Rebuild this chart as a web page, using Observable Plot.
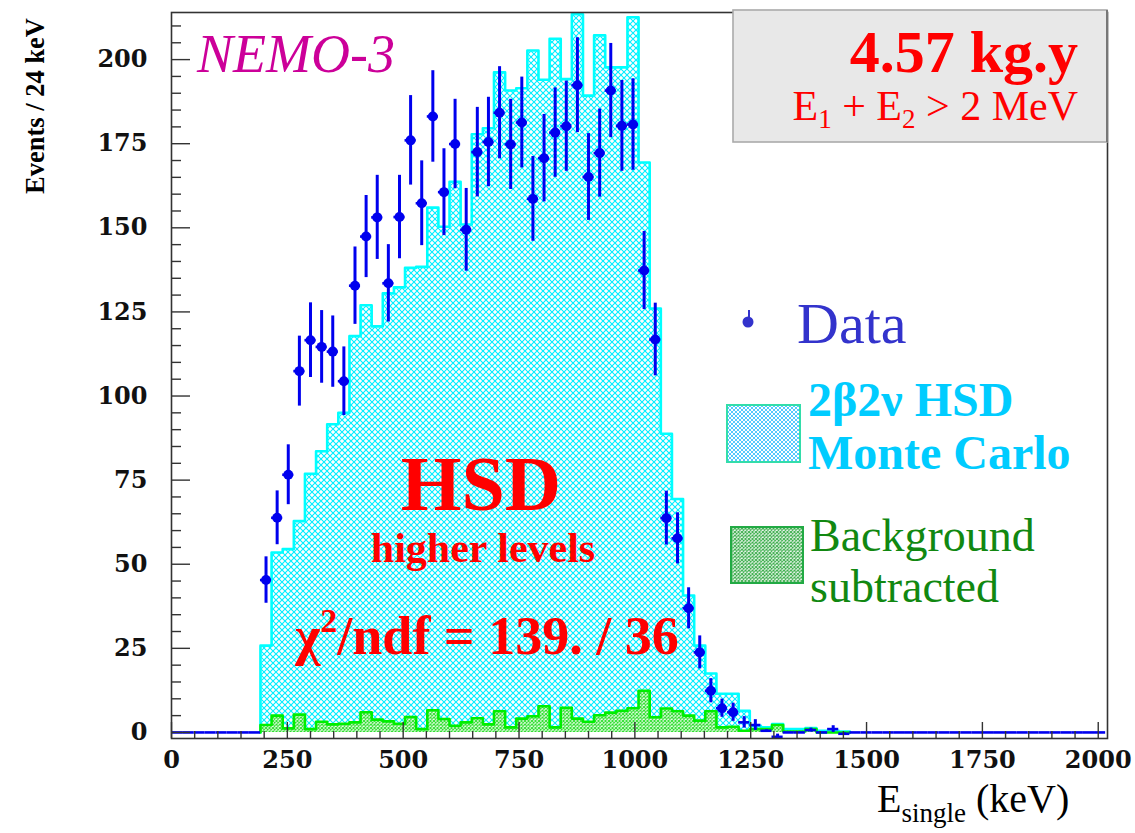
<!DOCTYPE html>
<html>
<head>
<meta charset="utf-8">
<script src="https://cdn.jsdelivr.net/npm/d3@7"></script>
<script src="https://cdn.jsdelivr.net/npm/@observablehq/plot@0.6"></script>
<style>
  html, body { margin: 0; padding: 0; background: #fff; }
  #chart svg { display: block; }
</style>
</head>
<body>
<div id="chart"></div>
<script>
// Single-electron energy spectrum, 24 keV bins, 0 – 2016 keV (84 bins).
const binWidth = 24;
const nBins = 84;
const firstBin = 8;            // bin 8 starts at 192 keV

// 2β2ν HSD Monte Carlo, events per bin from bin 8 onwards
const mcCounts = [
  25.8, 53.5, 54.5, 62.8, 76.9, 83.6, 91.6, 95.0, 117.8, 127.0,
  120.7, 130.5, 132.3, 138.1, 138.4, 156.0, 150.3, 163.7, 151.0, 177.8,
  179.6, 196.2, 190.8, 191.5, 202.7, 194.0, 206.2, 194.2, 213.5, 189.3,
  207.2, 197.7, 197.7, 212.6, 169.4, 126.0, 88.8, 69.4, 40.7, 25.8,
  17.5, 11.5, 11.5, 6.4, 2.0, 1.5, 2.5, 1.0, 1.0, 1.3,
  0.5, 0.5, 0.3
];

// Background that was subtracted from the data, events per bin from bin 8
const bkgCounts = [
  2.2, 5.0, 1.2, 5.3, 1.0, 3.2, 2.4, 2.6, 3.0, 6.0,
  3.8, 3.3, 2.6, 4.6, 1.0, 6.6, 4.0, 2.0, 3.0, 4.2,
  2.4, 6.3, 1.5, 4.1, 4.8, 7.8, 1.5, 7.3, 4.1, 3.2,
  5.1, 5.9, 6.4, 7.2, 12.4, 4.5, 7.1, 6.3, 5.0, 3.5,
  6.3, 1.5, 1.7, 0.5, 1.0, 1.0, 2.2, 0.3, 0.3, 1.0,
  0.0, 0.0, 0.0
];

// Background-subtracted data, events per bin from bin 8, and their errors
const dataCounts = [
  45.3, 63.8, 76.6, 107.4, 116.6, 114.6, 113.2, 104.4, 132.8, 147.4,
  153.1, 133.5, 153.2, 176.0, 157.3, 183.1, 160.6, 174.9, 149.4, 172.5,
  175.5, 184.2, 174.8, 181.3, 158.6, 170.7, 178.3, 180.2, 192.4, 165.1,
  172.2, 190.8, 180.3, 180.7, 137.3, 116.8, 63.7, 57.7, 36.9, 23.8,
  12.4, 7.2, 6.0, 3.0, 2.2, 0.5, -1.3, 0.0, 0.0, 0.7,
  0.0, 1.0, -0.4
];
const dataErrors = [
  6.9, 8.0, 8.9, 10.4, 11.1, 10.8, 10.6, 10.2, 11.5, 12.2,
  12.5, 11.5, 12.4, 13.3, 12.6, 13.6, 12.9, 13.3, 12.3, 13.3,
  13.3, 13.7, 13.4, 13.5, 12.6, 13.0, 13.3, 13.4, 14.1, 12.9,
  13.1, 14.0, 13.5, 13.6, 11.6, 10.8, 8.0, 7.6, 6.1, 4.9,
  3.6, 2.7, 2.7, 1.7, 1.6, 0.3, 0.8, 0.0, 0.0, 0.6,
  0.0, 1.0, 0.3
];

const xTicks = [0, 250, 500, 750, 1000, 1250, 1500, 1750, 2000];
const yTicks = [0, 25, 50, 75, 100, 125, 150, 175, 200];

// ---- derived tables --------------------------------------------------------
const stepPoints = counts => counts.flatMap((v, i) => {
  const lo = (firstBin + i) * binWidth;
  return [{x: lo, y: v}, {x: lo + binWidth, y: v}];
});
const outline = counts => {
  const pts = stepPoints(counts);
  return [{x: pts[0].x, y: 0}, ...pts, {x: pts[pts.length - 1].x, y: 0}];
};

// every bin of the data histogram; empty bins carry zero events
const dataBins = d3.range(nBins).map(b => {
  const i = b - firstBin;
  const inRange = i >= 0 && i < dataCounts.length;
  return {
    lo: b * binWidth,
    hi: (b + 1) * binWidth,
    mid: (b + 0.5) * binWidth,
    value: inRange ? dataCounts[i] : 0,
    err: inRange ? dataErrors[i] : 0
  };
});

const W = 1135, H = 833;
const mL = 171, mR = 28, mT = 12, mB = 95;
const innerW = W - mL - mR, innerH = H - mT - mB;

const xMinor = d3.range(0, 2001, 50).filter(v => v % 250 !== 0);
const yMinor = d3.range(0, 211, 5).filter(v => v % 25 !== 0);

const blue = "#0000ee";
const axisColor = "#333";

const chart = Plot.plot({
  width: W,
  height: H,
  marginLeft: mL,
  marginRight: mR,
  marginTop: mT,
  marginBottom: mB,
  x: {domain: [0, 2020]},
  y: {domain: [-1.8, 214]},
  style: {
    fontFamily: "'DejaVu Serif', serif",
    fontWeight: "bold",
    fontSize: "24px",
    color: "#111",
    background: "#fff",
    overflow: "visible"
  },
  marks: [
    // 2β2ν HSD Monte Carlo
    Plot.areaY(stepPoints(mcCounts), {x: "x", y1: 0, y2: "y", fill: "url(#hsdHatch)"}),
    Plot.line(outline(mcCounts), {x: "x", y: "y", stroke: "#00ffff", strokeWidth: 2.6}),
    // subtracted background
    Plot.areaY(stepPoints(bkgCounts), {x: "x", y1: 0, y2: "y", fill: "url(#bkgHatch)"}),
    Plot.line(outline(bkgCounts), {x: "x", y: "y", stroke: "#00ee00", strokeWidth: 2.6}),
    // data: horizontal bin bars, vertical error bars, markers
    Plot.ruleY(dataBins, {x1: "lo", x2: "hi", y: "value", stroke: blue, strokeWidth: 2.6}),
    Plot.ruleX(dataBins.filter(d => d.err > 0), {
      x: "mid", y1: d => d.value - d.err, y2: d => d.value + d.err,
      stroke: blue, strokeWidth: 3
    }),
    Plot.dot(dataBins.filter(d => d.value >= 5), {x: "mid", y: "value", r: 5, fill: blue, stroke: "none"}),
    // frame and inward ticks
    Plot.frame({stroke: axisColor, strokeWidth: 1.6}),
    Plot.tickX(xTicks, {x: d => d, stroke: axisColor, strokeWidth: 1.4, insetTop: innerH - 16}),
    Plot.tickX(xMinor, {x: d => d, stroke: axisColor, strokeWidth: 1.4, insetTop: innerH - 7}),
    Plot.tickY(yTicks, {y: d => d, stroke: axisColor, strokeWidth: 1.4, insetRight: innerW - 19}),
    Plot.tickY(yMinor, {y: d => d, stroke: axisColor, strokeWidth: 1.4, insetRight: innerW - 10}),
    Plot.axisX({ticks: xTicks, tickSize: 0, tickPadding: 12, tickFormat: d => String(d), label: null}),
    Plot.axisY({ticks: yTicks, tickSize: 0, tickPadding: 24, tickFormat: d => String(d), label: null})
  ]
});

document.getElementById("chart").appendChild(chart);

// ---- fill patterns ----------------------------------------------------------
const svg = d3.select(chart);
const defs = svg.insert("defs", ":first-child");
function hatch(id, size, color, width, bg) {
  const p = defs.append("pattern")
    .attr("id", id)
    .attr("patternUnits", "userSpaceOnUse")
    .attr("width", size).attr("height", size);
  p.append("rect").attr("width", size).attr("height", size).attr("fill", bg);
  p.append("path")
    .attr("d", `M-1,-1L${size + 1},${size + 1}M${size + 1},-1L-1,${size + 1}`)
    .attr("stroke", color).attr("stroke-width", width).attr("fill", "none");
}
hatch("hsdHatch", 6, "#00eeff", 1.1, "#ffffff");
hatch("bkgHatch", 3.5, "#22dd22", 1.0, "#ffffff");
hatch("hsdKey", 4, "#55c8ff", 1.0, "#ffffff");
hatch("bkgKey", 3.5, "#33aa44", 1.0, "#ffffff");

// ---- annotations ------------------------------------------------------------
const serif = "'Liberation Serif', 'Times New Roman', serif";
const g = svg.append("g");

function label(x, y, text, opts = {}) {
  return g.append("text")
    .attr("x", x).attr("y", y)
    .attr("font-family", serif)
    .attr("font-size", opts.size || 40)
    .attr("font-weight", opts.weight || "normal")
    .attr("font-style", opts.style || "normal")
    .attr("fill", opts.fill || "#000")
    .attr("text-anchor", opts.anchor || "start")
    .text(text);
}

// exposure box
g.append("rect")
  .attr("x", 733).attr("y", 10).attr("width", 374).attr("height", 132)
  .attr("fill", "#e8e8e8").attr("stroke", "#aaaaaa").attr("stroke-width", 1.6);
g.append("line")
  .attr("x1", 1107).attr("x2", 1107).attr("y1", 10).attr("y2", 142)
  .attr("stroke", "#777").attr("stroke-width", 2);
label(1078, 72, "4.57 kg.y", {size: 60, weight: "bold", fill: "#ff0000", anchor: "end"});
const cut = label(1078, 120, "", {size: 42, fill: "#ff0000", anchor: "end"});
cut.append("tspan").text("E");
cut.append("tspan").attr("font-size", 27).attr("dy", 8).text("1");
cut.append("tspan").attr("dy", -8).text(" + E");
cut.append("tspan").attr("font-size", 27).attr("dy", 8).text("2");
cut.append("tspan").attr("dy", -8).text(" > 2 MeV");

label(197, 72, "NEMO-3", {size: 54, style: "italic", fill: "#cc0099"});

label(481, 510, "HSD", {size: 78, weight: "bold", fill: "#ff0000", anchor: "middle"});
label(483, 562, "higher levels", {size: 42, weight: "bold", fill: "#ff0000", anchor: "middle"});
const chi = label(487, 654, "", {size: 54, weight: "bold", fill: "#ff0000", anchor: "middle"});
chi.append("tspan").text("χ");
chi.append("tspan").attr("font-size", 34).attr("dy", -22).text("2");
chi.append("tspan").attr("dy", 22).text("/ndf = 139. / 36");

// legend
g.append("line").attr("x1", 749).attr("x2", 749).attr("y1", 310).attr("y2", 322)
  .attr("stroke", "#3333cc").attr("stroke-width", 2);
g.append("circle").attr("cx", 748).attr("cy", 322).attr("r", 5.5).attr("fill", "#3333cc");
label(797, 343, "Data", {size: 58, fill: "#3333cc"});

g.append("rect").attr("x", 727).attr("y", 405).attr("width", 73).attr("height", 57)
  .attr("fill", "url(#hsdKey)").attr("stroke", "#33ddaa").attr("stroke-width", 2);
label(808, 416, "2β2ν HSD", {size: 48, weight: "bold", fill: "#00ccff"});
label(808, 469, "Monte Carlo", {size: 48, weight: "bold", fill: "#00ccff"});

g.append("rect").attr("x", 731).attr("y", 527).attr("width", 72).attr("height", 56)
  .attr("fill", "url(#bkgKey)").attr("stroke", "#22aa44").attr("stroke-width", 2);
label(810, 551, "Background", {size: 46, fill: "#118811"});
label(810, 602, "subtracted", {size: 46, fill: "#118811"});

// axis titles
const xt = label(877, 812, "", {size: 40, fill: "#000"});
xt.append("tspan").text("E");
xt.append("tspan").attr("font-size", 27).attr("dy", 10).text("single");
xt.append("tspan").attr("dy", -10).text(" (keV)");

g.append("text")
  .attr("transform", "translate(44,18) rotate(-90)")
  .attr("text-anchor", "end")
  .attr("font-family", serif)
  .attr("font-weight", "bold")
  .attr("font-size", 28)
  .attr("textLength", 176)
  .attr("lengthAdjust", "spacingAndGlyphs")
  .attr("fill", "#000")
  .text("Events / 24 keV");
</script>
</body>
</html>
